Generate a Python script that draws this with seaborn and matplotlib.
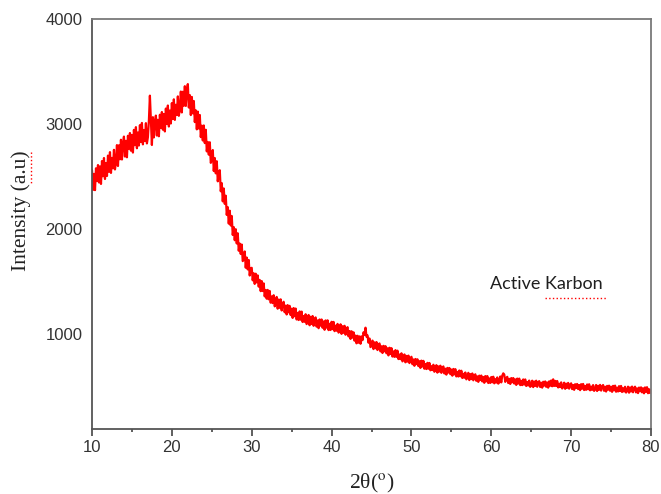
import numpy as np
import pandas as pd
import matplotlib
matplotlib.use("Agg")
import matplotlib.pyplot as plt
from matplotlib.lines import Line2D
from matplotlib.ticker import MultipleLocator
import seaborn as sns

# ---- data ----
scan_start = 10.0      # 2theta of first sample (deg)
scan_step = 0.125      # scan step (deg)

intensity = [
    2560, 2372, 2525, 2370, 2578, 2456, 2609, 2443,   # 10
    2596, 2429, 2647, 2502, 2676, 2476, 2628, 2505,   # 11
    2699, 2545, 2732, 2534, 2677, 2578, 2754, 2567,   # 12
    2635, 2799, 2600, 2797, 2664, 2850, 2662, 2815,   # 13
    2880, 2690, 2840, 2683, 2888, 2764, 2914, 2746,   # 14
    2896, 2728, 2944, 2798, 2970, 2769, 2919, 2795,   # 15
    2989, 2829, 3010, 2806, 2943, 2838, 3008, 2815,   # 16
    2875, 3034, 3270, 3022, 2800, 3065, 2872, 3020,   # 17
    3080, 2890, 3040, 2883, 3088, 2964, 3114, 2946,   # 18
    3096, 2929, 3147, 3002, 3176, 2976, 3128, 3005,   # 19
    3199, 3047, 3235, 3039, 3183, 3086, 3263, 3078,   # 20
    3145, 3309, 3110, 3307, 3174, 3360, 3172, 3325,   # 21
    3380, 3157, 3275, 3085, 3258, 3101, 3219, 3018,   # 22
    3130, 2949, 3118, 2957, 3086, 2875, 2984, 2843,   # 23
    2986, 2818, 2945, 2739, 2829, 2708, 2826, 2630,   # 24
    2655, 2752, 2552, 2676, 2530, 2645, 2454, 2542,   # 25
    2560, 2359, 2437, 2263, 2386, 2239, 2317, 2134,   # 26
    2208, 2051, 2174, 2033, 2124, 1943, 2018, 1893,   # 27
    1998, 1862, 1959, 1793, 1861, 1762, 1852, 1694,   # 28
    1710, 1786, 1631, 1728, 1615, 1705, 1557, 1626,   # 29
    1630, 1511, 1578, 1477, 1574, 1491, 1558, 1451,   # 30
    1515, 1408, 1504, 1409, 1482, 1358, 1419, 1336,   # 31
    1420, 1330, 1410, 1298, 1357, 1294, 1369, 1263,   # 32
    1282, 1353, 1241, 1328, 1249, 1330, 1224, 1289,   # 33
    1307, 1207, 1270, 1186, 1275, 1206, 1268, 1180,   # 34
    1241, 1153, 1247, 1169, 1242, 1138, 1201, 1133,   # 35
    1215, 1136, 1213, 1114, 1170, 1116, 1188, 1094,   # 36
    1115, 1181, 1083, 1164, 1095, 1171, 1078, 1139,   # 37
    1158, 1070, 1129, 1055, 1138, 1079, 1138, 1059,   # 38
    1119, 1040, 1129, 1060, 1130, 1037, 1097, 1038,   # 39
    1116, 1046, 1115, 1027, 1079, 1031, 1096, 1013,   # 40
    1032, 1092, 1001, 1074, 1011, 1078, 993, 1047,    # 41
    1065, 977, 1028, 953, 1026, 965, 1016, 936,       # 42
    985, 911, 983, 917, 977, 907, 977, 941,           # 43
    1016, 991, 1060, 974, 987, 917, 957, 875,         # 44
    885, 937, 856, 920, 864, 923, 847, 894,           # 45
    910, 834, 883, 819, 887, 835, 884, 816,           # 46
    864, 796, 869, 809, 865, 785, 834, 782,           # 47
    846, 782, 841, 761, 805, 760, 816, 739,           # 48
    756, 805, 730, 791, 737, 794, 723, 768,           # 49
    783, 712, 757, 697, 762, 713, 759, 694,           # 50
    741, 677, 746, 690, 744, 669, 714, 666,           # 51
    725, 669, 724, 654, 694, 656, 707, 640,           # 52
    655, 703, 632, 691, 642, 698, 630, 675,           # 53
    691, 624, 669, 613, 677, 632, 676, 617,           # 54
    661, 603, 667, 615, 665, 596, 639, 595,           # 55
    652, 597, 650, 581, 621, 583, 633, 568,           # 56
    582, 630, 561, 618, 570, 624, 559, 602,           # 57
    616, 554, 596, 544, 603, 561, 604, 548,           # 58
    590, 535, 599, 549, 599, 533, 577, 534,           # 59
    590, 540, 593, 530, 570, 537, 586, 527,           # 60
    543, 595, 539, 603, 625, 613, 544, 580,           # 61
    592, 533, 573, 524, 580, 540, 580, 528,           # 62
    567, 515, 575, 528, 575, 513, 554, 513,           # 63
    567, 518, 567, 505, 543, 509, 556, 496,           # 64
    511, 555, 494, 547, 505, 555, 497, 538,           # 65
    551, 495, 536, 489, 545, 508, 548, 497,           # 66
    538, 489, 549, 507, 557, 502, 568, 505,           # 67
    553, 504, 552, 491, 527, 494, 539, 481,           # 68
    495, 536, 478, 527, 487, 534, 479, 516,           # 69
    530, 475, 514, 468, 522, 485, 524, 475,           # 70
    514, 465, 522, 479, 524, 466, 505, 468,           # 71
    519, 473, 521, 463, 499, 468, 513, 458,           # 72
    473, 514, 457, 507, 468, 515, 461, 499,           # 73
    514, 459, 498, 452, 506, 469, 508, 459,           # 74
    498, 449, 506, 463, 508, 450, 489, 452,           # 75
    503, 457, 505, 447, 483, 452, 497, 442,           # 76
    457, 498, 441, 491, 452, 499, 445, 483,           # 77
    498, 444, 482, 437, 490, 454, 492, 444,           # 78
    483, 435, 491, 449, 493, 436, 474, 438,           # 79
    470,                                              # 80
]

x_ticks = [10, 20, 30, 40, 50, 60, 70, 80]
y_ticks = [1000, 2000, 3000, 4000]
x_label = "2θ($^{\\mathrm{o}}$)"
y_label = "Intensity (a.u)"
sample_label = "Active Karbon"

two_theta = scan_start + scan_step * np.arange(len(intensity))
df = pd.DataFrame({"two_theta": two_theta, "intensity": intensity})

# ---- style ----
sns.set_style("white")
plt.rcParams["font.family"] = ["Liberation Sans", "DejaVu Sans"]
plt.rcParams["mathtext.fontset"] = "stix"

W, H = 661, 494
fig = plt.figure(figsize=(6.61, 4.94), dpi=100)
ax = fig.add_axes([92 / W, 1 - 429 / H, (651 - 92) / W, (429 - 19) / H])

sns.lineplot(data=df, x="two_theta", y="intensity", ax=ax, color="#ff0000",
             linewidth=1.6, estimator=None, sort=False)

ax.set_xlim(10, 80)
ax.set_ylim(95, 4000)
ax.set_xticks(x_ticks)
ax.set_yticks(y_ticks)
ax.xaxis.set_minor_locator(MultipleLocator(5))
ax.set_xlabel("")
ax.set_ylabel("")

ax.tick_params(axis="x", which="major", direction="out", length=5, width=1.2,
               color="#444444", labelsize=12, labelcolor="#333333", pad=3,
               bottom=True)
ax.tick_params(axis="x", which="minor", direction="out", length=2.5, width=1.2,
               color="#444444", bottom=True)
ax.tick_params(axis="y", which="both", length=0, labelsize=12,
               labelcolor="#333333", pad=7)

for side in ["left", "bottom"]:
    ax.spines[side].set_color("#555555")
    ax.spines[side].set_linewidth(1.3)
for side in ["top", "right"]:
    ax.spines[side].set_color("#7a7a7a")
    ax.spines[side].set_linewidth(1.3)

serif = ["Liberation Serif", "DejaVu Serif"]
fig.text(372 / W, 1 - 483 / H, x_label, family=serif, fontsize=15.5,
         color="#222222", ha="center", va="center")
fig.text(21 / W, 1 - 211 / H, y_label, family=serif, fontsize=15.5,
         color="#222222", ha="center", va="center", rotation=90)

ax.text(59.8, 1480, sample_label, family=["Lato", "DejaVu Sans"],
        fontsize=13, color="#1f1f1f", ha="left", va="center")

# spell-check style squiggles
fig.add_artist(Line2D([545 / W, 606 / W], [1 - 298 / H] * 2,
                      transform=fig.transFigure, ls=":", color="red", lw=1))
fig.add_artist(Line2D([31 / W] * 2, [1 - 152 / H, 1 - 183 / H],
                      transform=fig.transFigure, ls=":", color="red", lw=1))

fig.savefig("out.png", dpi=100, facecolor="white")
